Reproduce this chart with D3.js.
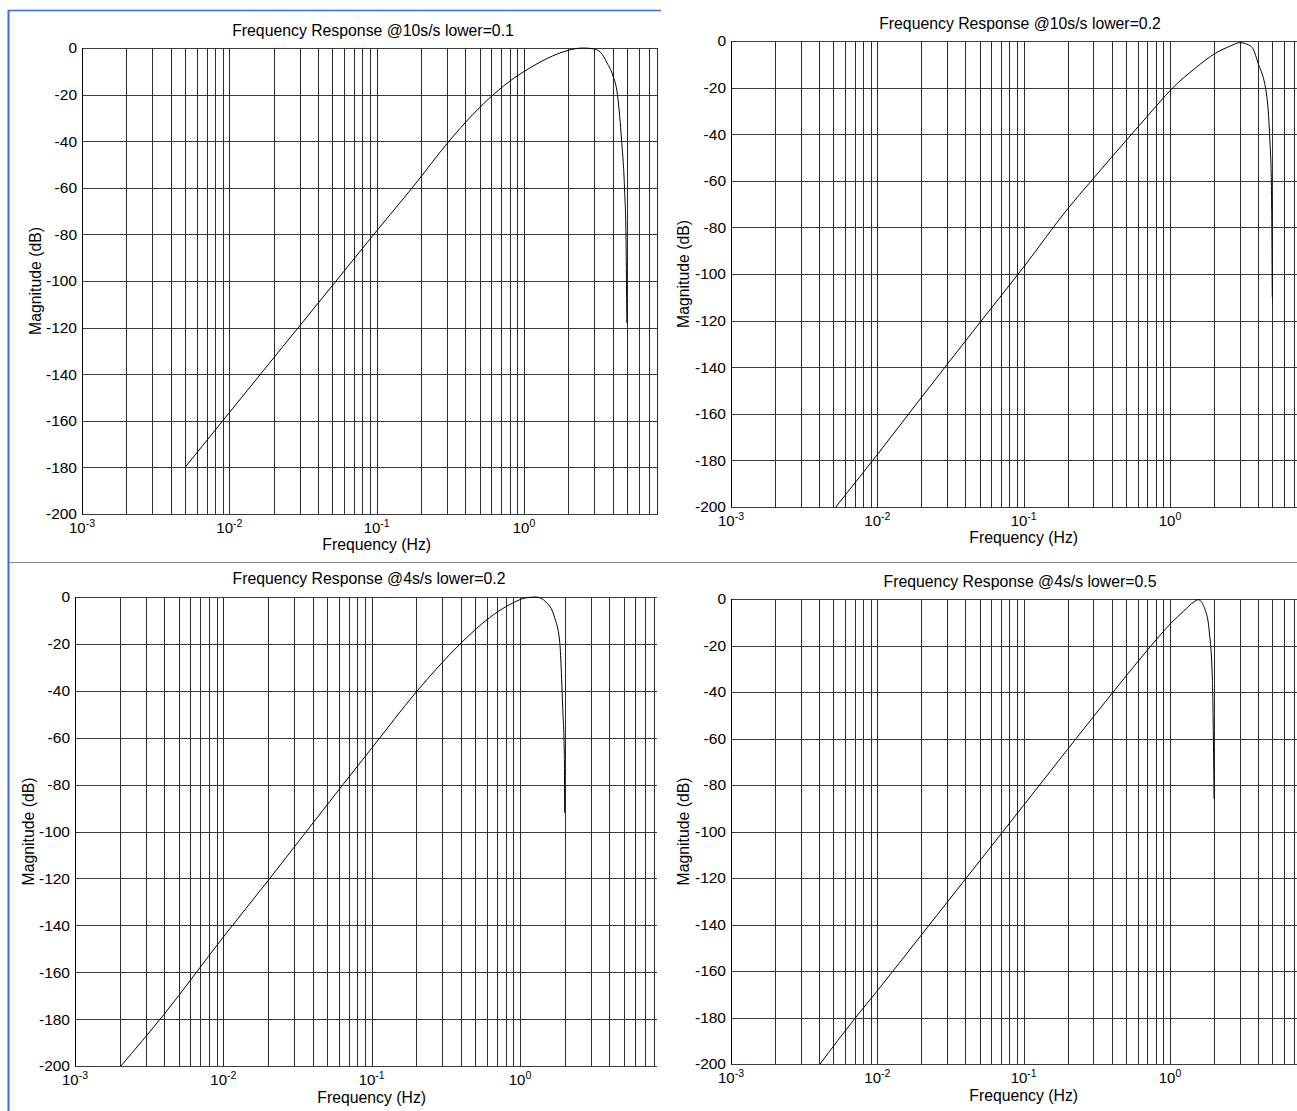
<!DOCTYPE html>
<html>
<head>
<meta charset="utf-8">
<script src="https://cdn.jsdelivr.net/npm/d3@7"></script>
<style>
  body { margin: 0; background: #fff; }
  text { font-family: "Liberation Sans", Arial, sans-serif; fill: #000; }
</style>
</head>
<body>
<div id="chart"></div>
<script>
// ---- data ----
var titles = [
  "Frequency Response @10s/s lower=0.1",
  "Frequency Response @10s/s lower=0.2",
  "Frequency Response @4s/s lower=0.2",
  "Frequency Response @4s/s lower=0.5"
];
var yTicks = [0, -20, -40, -60, -80, -100, -120, -140, -160, -180, -200];
var xTickExps = [-3, -2, -1, 0];

// top-left: 10 s/s, lower = 0.1
var freqA = [0.005, 0.01, 0.02, 0.05, 0.1, 0.177, 0.31, 0.45, 0.62, 0.843, 1.15, 1.435, 2.0, 2.5, 3.0, 3.4, 3.66, 4.0, 4.32, 4.6, 4.81, 4.92, 4.99];
var magA  = [-180, -156.5, -133, -102, -78.5, -59.5, -40, -28.5, -20, -13.2, -7.8, -4.5, -1, 0, -0.4, -2.8, -6.4, -11.6, -20.6, -40, -60, -80, -118];

// top-right: 10 s/s, lower = 0.2
var freqB = [0.0052, 0.01, 0.02, 0.05, 0.1, 0.2, 0.29, 0.533, 0.711, 0.93, 1.03, 1.5, 2.04, 2.6, 3.0, 3.6, 4.0, 4.59, 4.8, 4.93, 5.0];
var magB  = [-200, -177.5, -153, -121, -97, -72, -60, -40.8, -31.8, -23.5, -20.5, -11.5, -5.3, -2.1, -0.7, -2.4, -9.5, -23.9, -41, -61, -110];

// bottom-left: 4 s/s, lower = 0.2
var freqC = [0.00204, 0.00398, 0.01, 0.02, 0.064, 0.1, 0.2, 0.395, 0.512, 0.665, 0.865, 1.09, 1.28, 1.5, 1.71, 1.85, 1.94, 1.99, 2.0];
var magC  = [-200, -178, -145, -121, -80, -64.5, -40.5, -20, -13.3, -7.5, -3, -0.4, 0, -2.2, -8.7, -18.8, -47, -67, -92];

// bottom-right: 4 s/s, lower = 0.5
var freqD = [0.00406, 0.00711, 0.01, 0.02, 0.0722, 0.1, 0.2, 0.456, 0.711, 1.03, 1.24, 1.46, 1.56, 1.74, 1.85, 1.95, 1.98, 2.0];
var magD  = [-200, -180, -168.5, -144.5, -100, -88.7, -64.6, -36.3, -21.5, -10, -5.2, -1.2, -0.3, -4.7, -13.3, -35, -60.6, -86];

var series = [
  { f: freqA, m: magA },
  { f: freqB, m: magB },
  { f: freqC, m: magC },
  { f: freqD, m: magD }
];

// ---- layout of the four panels (pixel positions of 1e-3 and 1 Hz) ----
var panels = [
  { x0: 82,  x1: 524,  right: 658,  top: 48,  bottom: 514,  titleX: 373,  titleY: 36,  xlabY: 550,  ylabX: 41 },
  { x0: 731, x1: 1170, right: 1297, top: 41,  bottom: 507,  titleX: 1020, titleY: 29,  xlabY: 543,  ylabX: 689 },
  { x0: 75,  x1: 520,  right: 657,  top: 597, bottom: 1066, titleX: 369,  titleY: 584, xlabY: 1103, ylabX: 34 },
  { x0: 731, x1: 1170, right: 1297, top: 599, bottom: 1064, titleX: 1020, titleY: 587, xlabY: 1101, ylabX: 689 }
];

var svgWidth = 1297, svgHeight = 1111;

var svg = d3.select("#chart")
  .append("svg")
  .attr("width", svgWidth)
  .attr("height", svgHeight);

// page frame from the document the figure was scanned from
svg.append("line").attr("x1", 8.5).attr("x2", 8.5).attr("y1", 10).attr("y2", svgHeight)
  .attr("stroke", "#3a68ee").attr("stroke-width", 2);
svg.append("line").attr("x1", 8).attr("x2", 661).attr("y1", 10.5).attr("y2", 10.5)
  .attr("stroke", "#3a68ee").attr("stroke-width", 1.5);
svg.append("line").attr("x1", 9).attr("x2", svgWidth).attr("y1", 562.5).attr("y2", 562.5)
  .attr("stroke", "#888").attr("stroke-width", 1);

// minor/major grid frequencies 1e-3 .. 9
var gridFreqs = [];
[-3, -2, -1, 0].forEach(function (e) {
  for (var k = 1; k <= 9; k++) gridFreqs.push(k * Math.pow(10, e));
});

panels.forEach(function (p, i) {
  var x = d3.scaleLog().domain([1e-3, 1]).range([p.x0, p.x1]);
  var y = d3.scaleLinear().domain([-200, 0]).range([p.bottom, p.top]);

  var g = svg.append("g");
  var clipId = "clip" + i;
  svg.append("clipPath").attr("id", clipId)
    .append("rect")
    .attr("x", p.x0).attr("y", p.top - 1)
    .attr("width", p.right - p.x0).attr("height", p.bottom - p.top + 2);

  var plot = g.append("g").attr("clip-path", "url(#" + clipId + ")");

  // vertical grid
  plot.selectAll("line.vgrid")
    .data(gridFreqs.filter(function (f) { return f > 1e-3; }))
    .enter().append("line")
    .attr("class", "vgrid")
    .attr("x1", function (d) { return Math.round(x(d)) + 0.5; })
    .attr("x2", function (d) { return Math.round(x(d)) + 0.5; })
    .attr("y1", p.top).attr("y2", p.bottom)
    .attr("stroke", "#2a2a2a").attr("stroke-width", 1);

  // horizontal grid
  plot.selectAll("line.hgrid")
    .data(yTicks)
    .enter().append("line")
    .attr("class", "hgrid")
    .attr("x1", p.x0).attr("x2", p.right)
    .attr("y1", function (d) { return Math.round(y(d)) + 0.5; })
    .attr("y2", function (d) { return Math.round(y(d)) + 0.5; })
    .attr("stroke", "#3a3a3a").attr("stroke-width", 1);

  // left axis line
  g.append("line")
    .attr("x1", p.x0 + 0.5).attr("x2", p.x0 + 0.5)
    .attr("y1", p.top).attr("y2", p.bottom)
    .attr("stroke", "#000");

  // curve
  var s = series[i];
  var pts = s.f.map(function (f, j) { return [f, s.m[j]]; });
  plot.append("path")
    .datum(pts)
    .attr("fill", "none")
    .attr("stroke", "#000")
    .attr("stroke-width", 1)
    .attr("d", d3.line()
      .curve(d3.curveMonotoneX)
      .x(function (d) { return x(d[0]); })
      .y(function (d) { return y(d[1]); }));

  // y axis labels via d3 axis (plain hyphen minus like the original)
  var leftAxis = d3.axisLeft(y).tickValues(yTicks).tickSize(0).tickPadding(5)
    .tickFormat(function (d) { return String(d); });
  var ya = g.append("g")
    .attr("transform", "translate(" + p.x0 + ",0)")
    .call(leftAxis);
  ya.select(".domain").remove();
  ya.selectAll("text")
    .attr("font-size", 15.5)
    .attr("font-family", "Liberation Sans, Arial, sans-serif")
    .attr("fill", "#000");

  // x tick labels as 10^n with superscript
  var xt = g.selectAll("text.xtick")
    .data(xTickExps)
    .enter().append("text")
    .attr("class", "xtick")
    .attr("x", function (d) { return x(Math.pow(10, d)); })
    .attr("y", p.bottom + 19)
    .attr("text-anchor", "middle")
    .attr("font-size", 15);
  xt.append("tspan").text("10");
  xt.append("tspan")
    .attr("dy", -6)
    .attr("font-size", 10.5)
    .text(function (d) { return d; });

  // title
  g.append("text")
    .attr("x", p.titleX)
    .attr("y", p.titleY)
    .attr("text-anchor", "middle")
    .attr("font-size", 15.8)
    .text(titles[i]);

  // x axis label
  g.append("text")
    .attr("x", x(0.1))
    .attr("y", p.xlabY)
    .attr("text-anchor", "middle")
    .attr("font-size", 15.8)
    .text("Frequency (Hz)");

  // y axis label
  g.append("text")
    .attr("transform", "translate(" + p.ylabX + "," + (p.top + p.bottom) / 2 + ") rotate(-90)")
    .attr("text-anchor", "middle")
    .attr("font-size", 15.8)
    .text("Magnitude (dB)");
});
</script>
</body>
</html>
